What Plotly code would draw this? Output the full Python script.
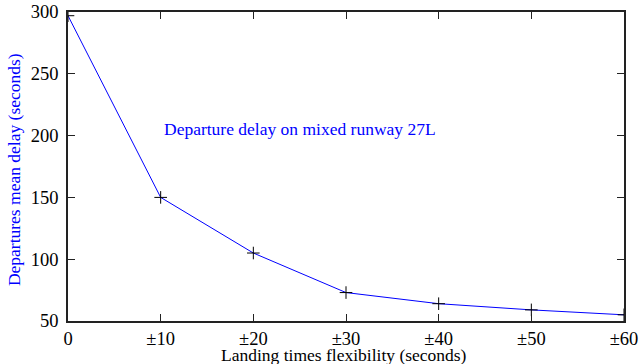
import plotly.graph_objects as go

flex = [0, 10, 20, 30, 40, 50, 60]
delay = [297, 150, 105, 73, 64, 59, 55]
tick_vals = [0, 10, 20, 30, 40, 50, 60]
tick_text = ["0", "±10", "±20", "±30", "±40", "±50", "±60"]
y_ticks = [50, 100, 150, 200, 250, 300]

x_title = "Landing times flexibility (seconds)"
y_title = "Departures mean delay (seconds)"
note = "Departure delay on mixed runway 27L"

font = "Liberation Serif"

fig = go.Figure()
fig.add_trace(go.Scatter(
    x=flex, y=delay, mode="lines",
    line=dict(color="#0000ff", width=1),
    showlegend=False,
))
fig.add_trace(go.Scatter(
    x=flex, y=delay, mode="markers",
    marker=dict(symbol="cross-thin", size=9, line=dict(color="black", width=1)),
    showlegend=False,
))

axis_common = dict(
    showgrid=False, zeroline=False, showline=True, linecolor="#222222", linewidth=1.5,
    mirror="allticks", ticks="inside", ticklen=7, tickcolor="#222222", tickwidth=1,
    tickfont=dict(family=font, size=18.5, color="black"), automargin=False,
    ticklabeloverflow="allow",
)
fig.update_xaxes(range=[0, 60], tickvals=tick_vals, ticktext=tick_text,
                 ticklabelstandoff=0, **axis_common)
fig.update_yaxes(range=[50, 300], tickvals=y_ticks,
                 ticklabelstandoff=4, **axis_common)

# axis titles as annotations for exact placement
fig.add_annotation(x=0.497, y=0, xref="paper", yref="paper", yanchor="middle", yshift=-33.5,
                   borderpad=0, text=x_title, showarrow=False,
                   font=dict(family=font, size=17.5, color="black"))
fig.add_annotation(x=0, y=0.49, xref="paper", yref="paper", xanchor="center", xshift=-54.5,
                   text=y_title, textangle=-90, showarrow=False,
                   font=dict(family=font, size=17.5, color="#0000ff"))

fig.add_annotation(x=25, y=205, xref="x", yref="y", text=note,
                   showarrow=False, font=dict(family=font, size=17.5, color="#0000ff"))

fig.update_layout(
    width=642, height=364,
    margin=dict(l=68, r=18, t=12, b=43),
    plot_bgcolor="white", paper_bgcolor="white",
)
# remove the browser's default 8px body margin so the figure sits at the page origin
fig.write_html("out.html", config={"displayModeBar": False},
               post_script="document.body.style.margin='0';")
